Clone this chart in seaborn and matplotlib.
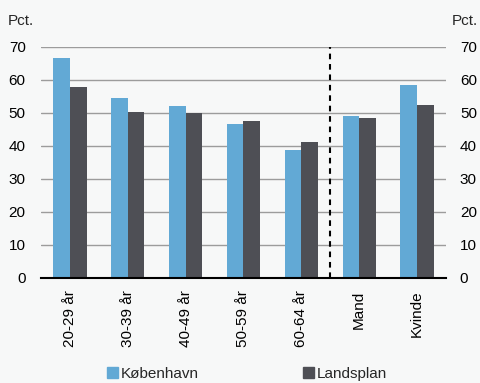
import numpy as np
import pandas as pd
import seaborn as sns
import matplotlib.pyplot as plt
from matplotlib.patches import Patch

# data
categories = ["20-29 år", "30-39 år", "40-49 år", "50-59 år", "60-64 år", "Mand", "Kvinde"]
koebenhavn = [66.8, 54.6, 52.2, 46.6, 38.7, 49.2, 58.4]
landsplan = [57.8, 50.2, 50.0, 47.5, 41.1, 48.5, 52.4]
series = ["København", "Landsplan"]
yticks = [0, 10, 20, 30, 40, 50, 60, 70]

col_blue = "#62a9d5"
col_dark = "#4e4f55"
bg = "#f7f8f8"

df = pd.DataFrame({
    "kategori": categories * 2,
    "serie": [series[0]] * len(categories) + [series[1]] * len(categories),
    "pct": koebenhavn + landsplan,
})

sns.set_style("white")
plt.rcParams["font.family"] = ["Liberation Sans", "DejaVu Sans"]
plt.rcParams["font.size"] = 11

fig = plt.figure(figsize=(4.81, 3.83), dpi=100)
fig.patch.set_facecolor(bg)
ax = fig.add_axes([0.0852, 0.2742, 0.842, 0.6031])
ax.set_facecolor(bg)

sns.barplot(
    df, x="kategori", y="pct", hue="serie",
    palette={series[0]: col_blue, series[1]: col_dark},
    width=0.576, saturation=1, legend=False, ax=ax,
    edgecolor="none", linewidth=0,
)

ax.set_xlim(-0.5, len(categories) - 0.5)
ax.set_ylim(0, 70)
ax.set_yticks(yticks)
ax.yaxis.grid(True, color="#9c9c9c", lw=1)
ax.set_axisbelow(True)
ax.set(xlabel="", ylabel="")
for s in ["left", "right", "top"]:
    ax.spines[s].set_visible(False)
ax.spines["bottom"].set_color("black")
ax.spines["bottom"].set_linewidth(1.5)
ax.tick_params(axis="y", length=0, pad=11, labelsize=11, colors="black")
ax.tick_params(axis="x", which="major", length=0, pad=9, labelsize=11, labelrotation=90, colors="black")
ax.set_xticks(np.arange(-0.5, len(categories), 1), minor=True)
ax.tick_params(axis="x", which="minor", length=4, width=1.2, direction="out", color="black")

# separator between age groups and gender
ax.axvline(4.5, color="black", ls=(0, (2.7, 2.3)), lw=1.5)

ax2 = ax.twinx()
ax2.set_ylim(0, 70)
ax2.set_yticks(yticks)
ax2.tick_params(axis="y", length=0, pad=10, labelsize=11, colors="black")
for s in ax2.spines.values():
    s.set_visible(False)

fig.text(8 / 481, 1 - 21 / 383, "Pct.", fontsize=11, va="center", ha="left")
fig.text(452 / 481, 1 - 21 / 383, "Pct.", fontsize=11, va="center", ha="left")

handles = [Patch(color=col_blue, label=series[0]), Patch(color=col_dark, label=series[1])]
fig.legend(handles=handles, loc="center", bbox_to_anchor=(0.514, 0.024), ncol=2,
           frameon=False, handlelength=0.7, handleheight=0.7, handletextpad=0.2,
           columnspacing=6.8, fontsize=11)

fig.savefig("out.png", dpi=100, facecolor=bg)
